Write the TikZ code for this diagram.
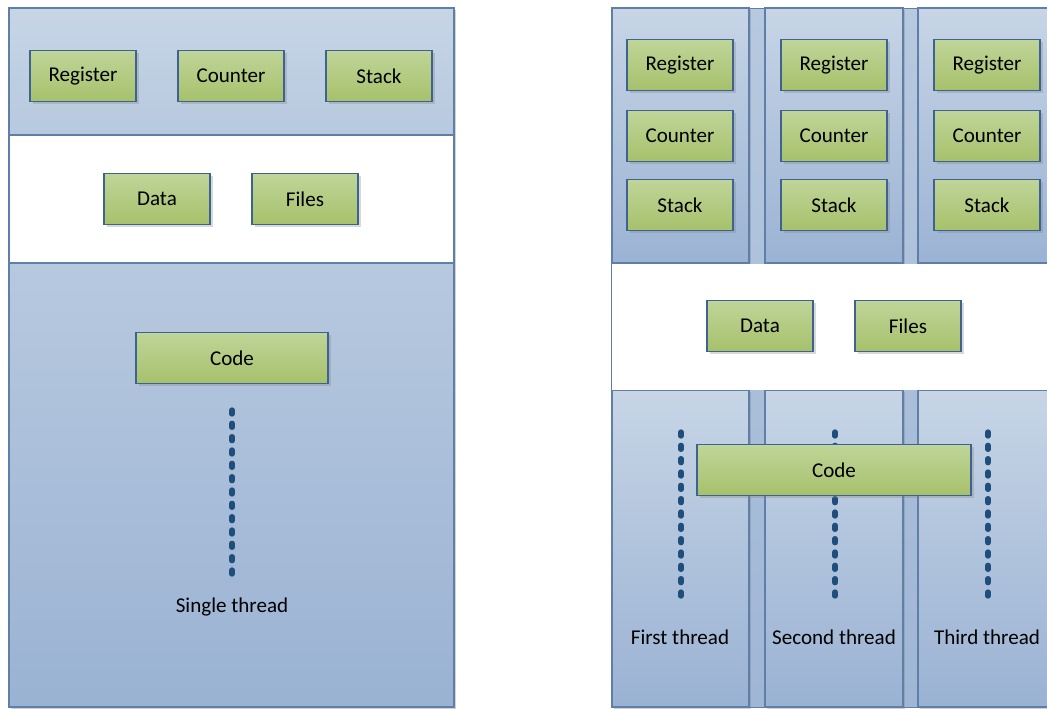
\documentclass[tikz,border=0pt]{standalone}
\usepackage{fontspec}
\setmainfont{Carlito}
\usetikzlibrary{shadows}
\definecolor{panelTop}{HTML}{C7D5E6}
\definecolor{panelMid}{HTML}{B7C9DF}
\definecolor{panelBot}{HTML}{9AB2D3}
\definecolor{panelLine}{HTML}{5F7FA8}
\definecolor{boxTop}{HTML}{BFD599}
\definecolor{boxBot}{HTML}{A6C16B}
\definecolor{boxLine}{HTML}{3E6390}
\definecolor{dotBlue}{HTML}{1F4E7D}
\begin{document}
\begin{tikzpicture}[x=0.75pt,y=-0.75pt,font=\fontsize{15.8}{19}\selectfont,
    panel/.style={draw=panelLine,line width=0.8pt,drop shadow={shadow xshift=1.2pt,shadow yshift=-1.2pt,opacity=.35}},
    box/.style={draw=boxLine,line width=0.8pt,top color=boxTop,bottom color=boxBot,
        minimum width=79.5pt,minimum height=38.25pt,inner sep=0pt,
        drop shadow={shadow xshift=2pt,shadow yshift=-2pt,opacity=.3}},
    thread/.style={draw=dotBlue,line width=4pt,line cap=round,dash pattern=on 3pt off 7pt}]
    \useasboundingbox (0,0) rectangle (1047,708);
    % single threaded process
    \draw[panel,top color=panelTop,bottom color=panelMid] (9,8) rectangle (454,135);
    \draw[panel,fill=white] (9,135) rectangle (454,263);
    \draw[panel,top color=panelMid,bottom color=panelBot] (9,263) rectangle (454,707);
    \node[box] (reg) at (83,76) {Register};
    \node[box] (cnt) at (231,76) {Counter};
    \node[box] (stk) at (379,76) {Stack};
    \node[box] (data) at (157,199) {Data};
    \node[box] (files) at (305,199) {Files};
    \node[box,minimum width=144pt] (code) at (232,358) {Code};
    \draw[thread] (232,410) -- (232,577);
    \node (single) at (232,607) {Single thread};
    % multithreaded process
    \draw[draw=panelLine,top color=panelMid,bottom color=panelBot!95!white] (611,8) rectangle (1052,707);
    \foreach \i/\l/\r in {1/612/749,2/765/903,3/918/1056}{
        \draw[panel,top color=panelTop,bottom color=panelBot!97!panelMid] (\l,8) rectangle (\r,263);
        \draw[panel,top color=panelTop,bottom color=panelBot] (\l,390) rectangle (\r,707);
    }
    \fill[white] (612,264) rectangle (1052,389.5);
    \draw[panelLine,line width=0.8pt] (611.5,263) -- (611.5,390);
    \foreach \i/\x/\t in {1/680/First,2/834/Second,3/987/Third}{
        \node[box] (reg\i) at (\x,65) {Register};
        \node[box] (cnt\i) at (\x,136) {Counter};
        \node[box] (stk\i) at (\x,205) {Stack};
        \draw[thread] (\x+1,432) -- (\x+1,599);
        \node (thr\i) at (\x,637) {\t{} thread};
    }
    \node[box] (data2) at (760,326) {Data};
    \node[box] (files2) at (908,326) {Files};
    \node[box,minimum width=205.5pt] (code2) at (834,470) {Code};
\end{tikzpicture}
\end{document}
